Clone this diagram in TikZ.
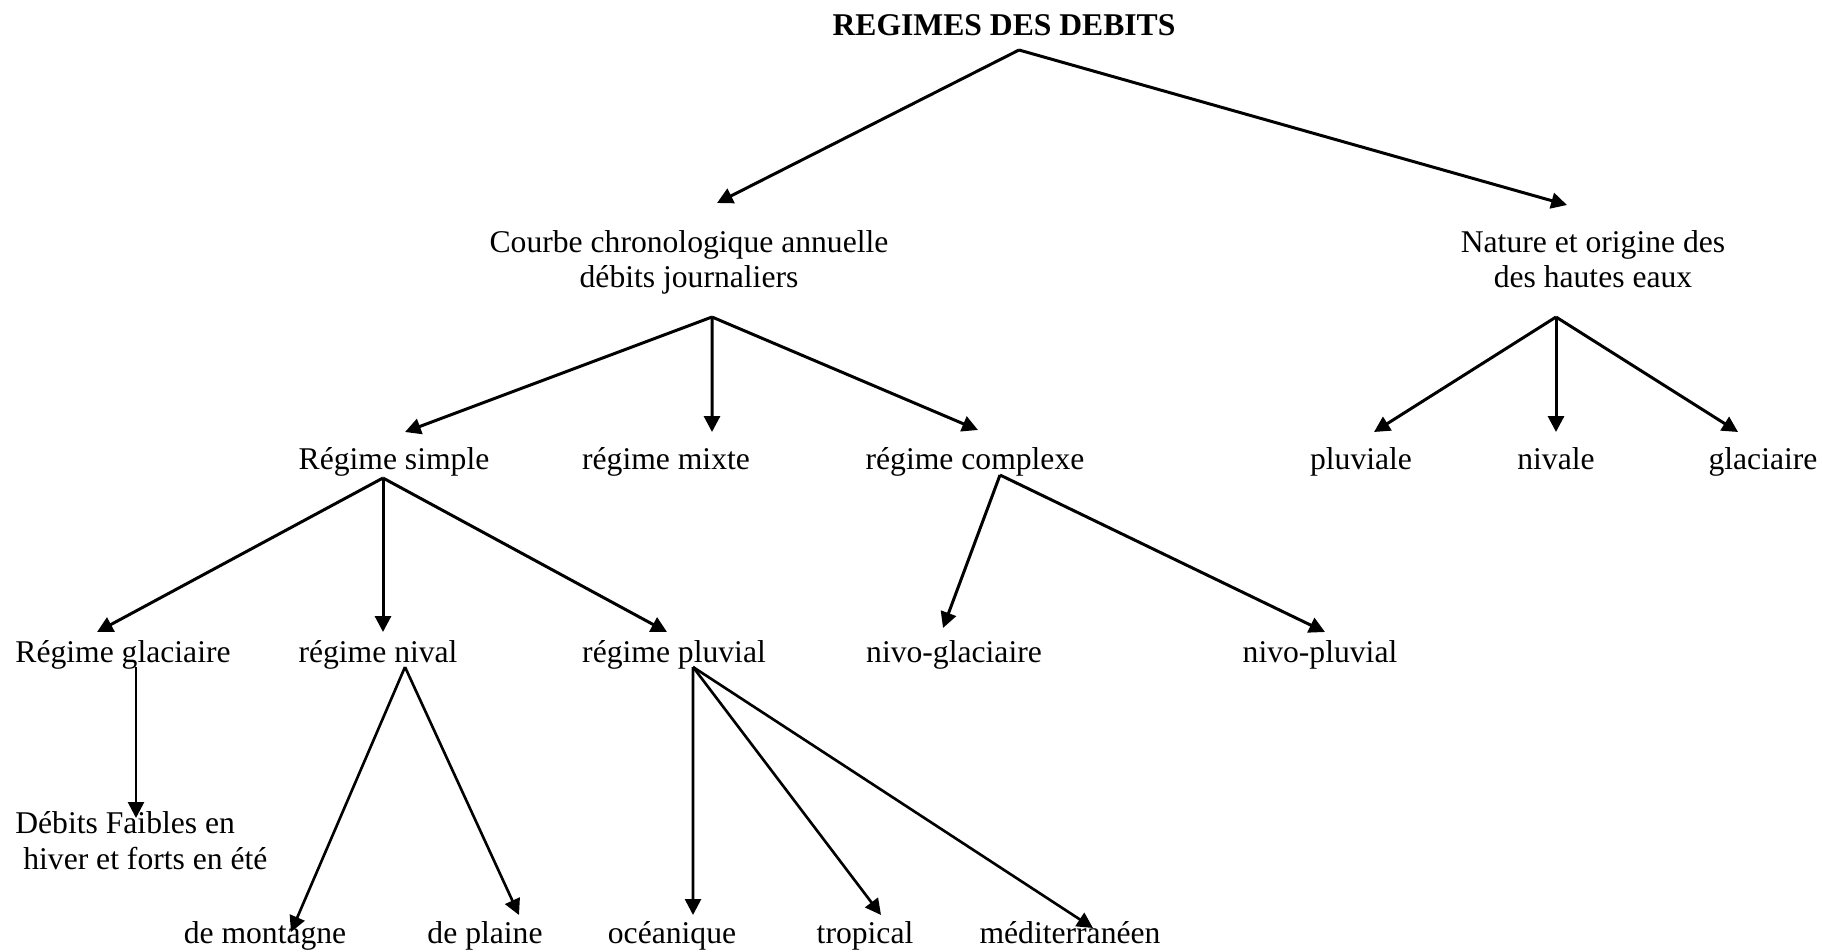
\documentclass[tikz,border=0pt]{standalone}
\usepackage{fontspec}
\setmainfont{Liberation Serif}
\usetikzlibrary{arrows.meta,calc}

\begin{document}
\begin{tikzpicture}[font=\fontsize{18}{20}\selectfont,
		every node/.style={inner sep=0pt},
		lbl/.style={anchor=base},
		link/.style={-{Triangle[length=9pt,width=9pt]},line width=1.7pt},
		thinlink/.style={link,line width=1.5pt}]

	\useasboundingbox (0,0) rectangle (36.44,-19.02);

	% niveau 0
	\node[lbl] (title) at (20.08,-0.70) {\textbf{REGIMES DES DEBITS}};
	\coordinate (title-s) at (20.38,-1.00);

	% niveau 1
	\node[anchor=north,align=center] (courbe) at (13.78,-4.61) {Courbe chronologique annuelle\\débits journaliers};
	\node[anchor=north,align=center] (nature) at (31.86,-4.61) {Nature et origine des\\des hautes eaux};
	\coordinate (courbe-s) at (14.24,-6.34);
	\coordinate (nature-s) at (31.12,-6.34);

	\draw[link] (title-s) -- ($(courbe.north)+(0.56,0.55)$);
	\draw[link] (title-s) -- ($(nature.north)+(-0.52,0.51)$);

	% niveau 2
	\node[lbl] (simple)    at (7.88,-9.38)  {Régime simple};
	\node[lbl] (mixte)     at (13.32,-9.38) {régime mixte};
	\node[lbl] (complexe)  at (19.50,-9.38) {régime complexe};
	\node[lbl] (pluviale)  at (27.22,-9.38) {pluviale};
	\node[lbl] (nivale)    at (31.12,-9.38) {nivale};
	\node[lbl] (glaciaire) at (35.26,-9.38) {glaciaire};
	\coordinate (simple-s)   at (7.66,-9.56);
	\coordinate (complexe-s) at (20.00,-9.50);

	\draw[link] (courbe-s) -- ($(simple.base)+(0.22,0.74)$);
	\draw[link] (courbe-s) -- ($(mixte.base)+(0.92,0.74)$);
	\draw[link] (courbe-s) -- ($(complexe.base)+(0.06,0.78)$);
	\draw[link] (nature-s) -- ($(pluviale.base)+(0.26,0.74)$);
	\draw[link] (nature-s) -- ($(nivale.base)+(0,0.74)$);
	\draw[link] (nature-s) -- ($(glaciaire.base)+(-0.50,0.74)$);

	% niveau 3
	\node[lbl] (rglac)    at (2.46,-13.24)  {Régime glaciaire};
	\node[lbl] (rnival)   at (7.56,-13.24)  {régime nival};
	\node[lbl] (rpluvial) at (13.48,-13.24) {régime pluvial};
	\node[lbl] (nglac)    at (19.08,-13.24) {nivo-glaciaire};
	\node[lbl] (npluv)    at (26.40,-13.24) {nivo-pluvial};
	\coordinate (rglac-s)    at (2.72,-13.34);
	\coordinate (rnival-s)   at (8.10,-13.34);
	\coordinate (rpluvial-s) at (13.86,-13.34);

	\draw[link] (simple-s) -- ($(rglac.base)+(-0.52,0.60)$);
	\draw[link] (simple-s) -- ($(rnival.base)+(0.10,0.60)$);
	\draw[link] (simple-s) -- ($(rpluvial.base)+(-0.14,0.60)$);
	\draw[link] (complexe-s) -- ($(nglac.base)+(-0.22,0.68)$);
	\draw[link] (complexe-s) -- ($(npluv.base)+(0.10,0.60)$);

	% niveau 4
	\node[anchor=north west,align=left] (debits) at (0.30,-16.23) {Débits Faibles en\\\hspace*{0.16cm}hiver et forts en été};
	\draw[thinlink] (rglac-s) -- ($(rglac-s |- debits.north)+(0,-0.13)$);

	\node[lbl] (montagne)  at (5.30,-18.86)  {de montagne};
	\node[lbl] (plaine)    at (9.70,-18.86)  {de plaine};
	\node[lbl] (oceanique) at (13.44,-18.86) {océanique};
	\node[lbl] (tropical)  at (17.30,-18.86) {tropical};
	\node[lbl] (medit)     at (21.40,-18.86) {méditerranéen};

	\draw[thinlink] (rnival-s) -- ($(montagne.base)+(0.52,0.22)$);
	\draw[thinlink] (rnival-s) -- ($(plaine.base)+(0.68,0.56)$);
	\draw[thinlink] (rpluvial-s) -- ($(oceanique.base)+(0.42,0.56)$);
	\draw[thinlink] (rpluvial-s) -- ($(tropical.base)+(0.32,0.56)$);
	\draw[thinlink] (rpluvial-s) -- ($(medit.base)+(0.46,0.30)$);
\end{tikzpicture}
\end{document}
